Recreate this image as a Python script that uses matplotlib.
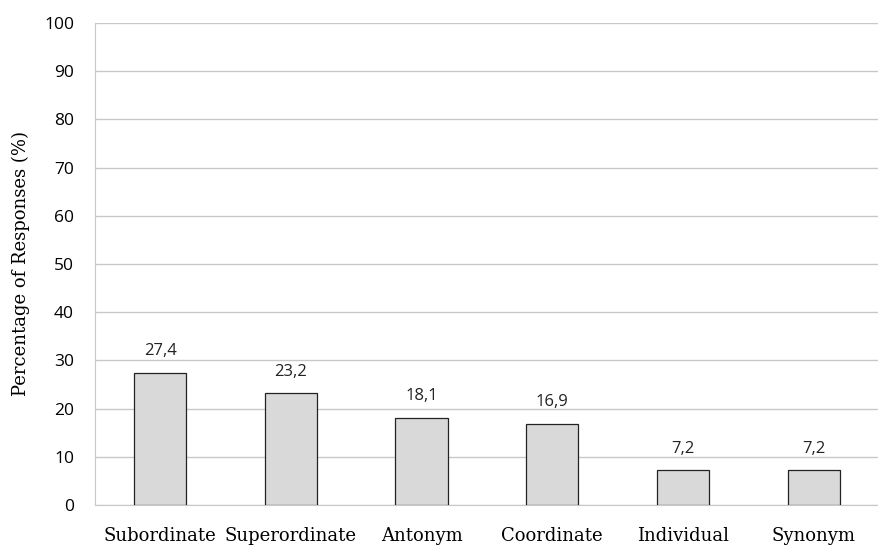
import matplotlib.pyplot as plt

categories = ["Subordinate", "Superordinate", "Antonym", "Coordinate", "Individual", "Synonym"]
values = [27.4, 23.2, 18.1, 16.9, 7.2, 7.2]
labels = ["27,4", "23,2", "18,1", "16,9", "7,2", "7,2"]
yticks = [0, 10, 20, 30, 40, 50, 60, 70, 80, 90, 100]

fig = plt.figure(figsize=(8.79, 5.46), dpi=100)
ax = fig.add_axes([0.108, 0.075, 0.892, 0.883])

x = list(range(len(categories)))
bars = ax.bar(x, values, width=0.4, color="#d9d9d9", edgecolor="#222222", linewidth=0.9, zorder=3)
for b, lab in zip(bars, labels):
    ax.text(b.get_x() + b.get_width() / 2, b.get_height() + 2.8, lab,
            ha="center", va="bottom", fontsize=12, family="Open Sans", color="#222222")

ax.set_xlim(-0.5, len(categories) - 0.5)
ax.set_ylim(0, 100)
ax.set_yticks(yticks)
ax.yaxis.grid(True, color="#c8c8c8", linewidth=1.0, zorder=0)
ax.set_xticks(x)
ax.set_xticklabels(categories, family="DejaVu Serif", fontsize=13)
ax.tick_params(axis="x", length=0, pad=16)
ax.tick_params(axis="y", length=0, pad=15, labelsize=12.5)
for t in ax.get_yticklabels():
    t.set_family("Open Sans")
ax.set_ylabel("Percentage of Responses (%)", family="DejaVu Serif", fontsize=13, labelpad=10)

for s in ["top", "right"]:
    ax.spines[s].set_visible(False)
ax.spines["left"].set_color("#c8c8c8")
ax.spines["bottom"].set_color("#c8c8c8")

fig.savefig("out.png", dpi=100)
